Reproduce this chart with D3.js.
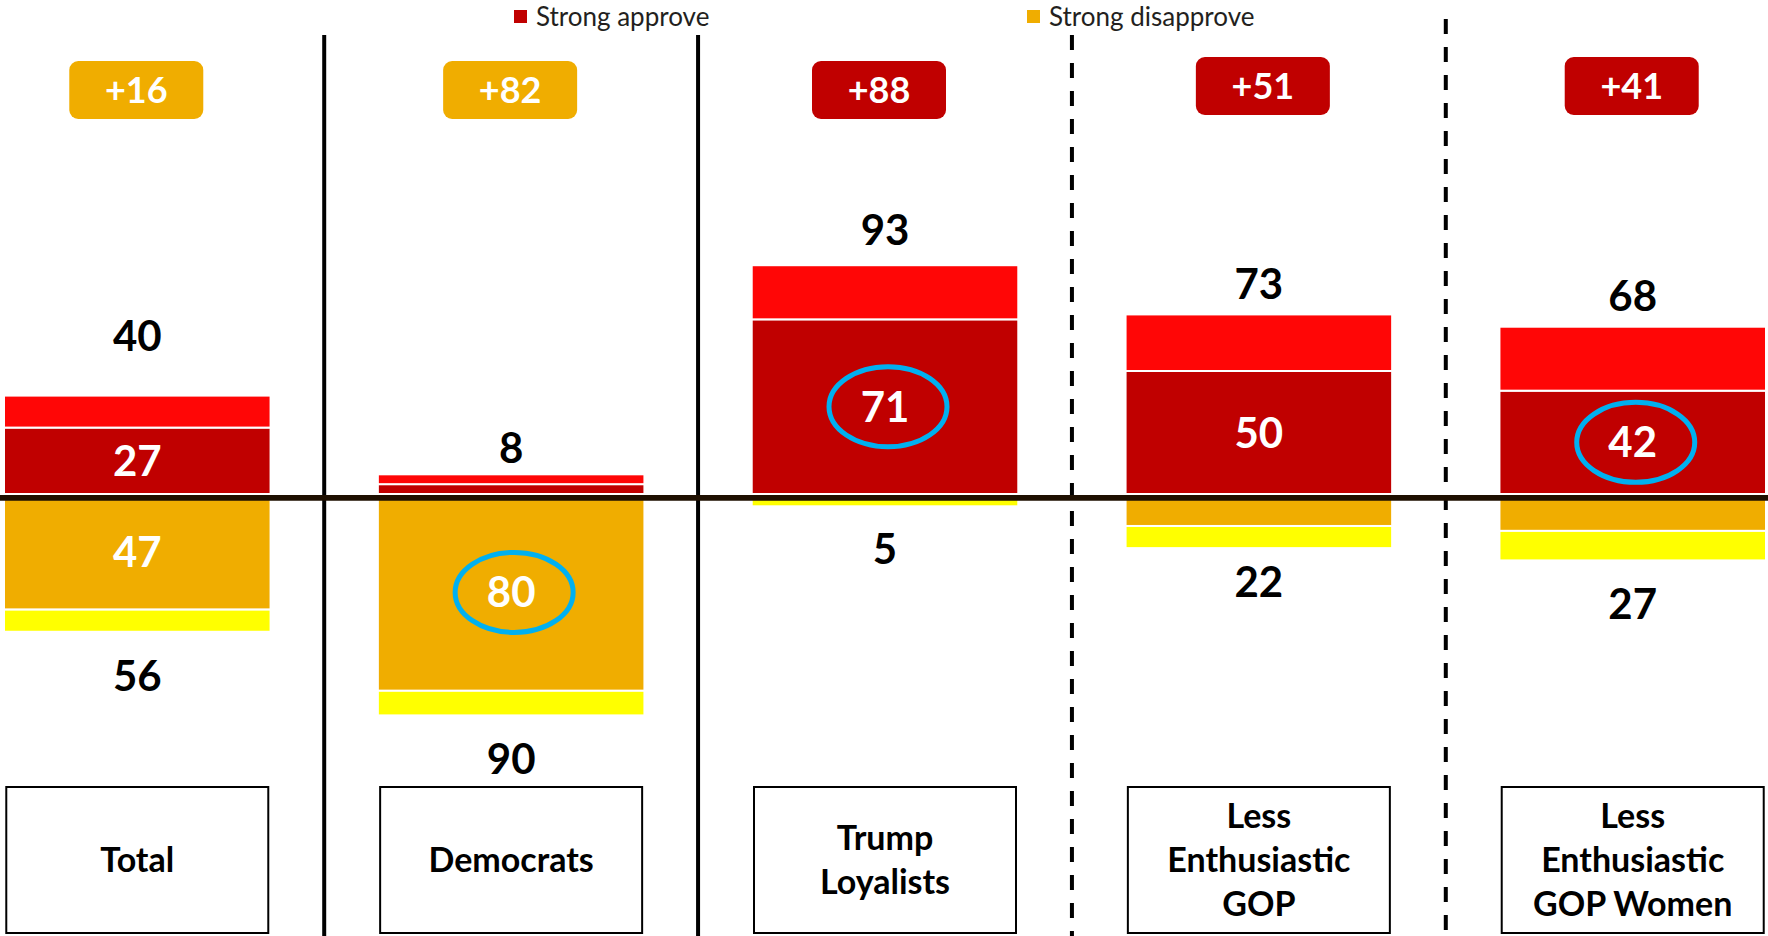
<!DOCTYPE html>
<html>
<head>
<meta charset="utf-8">
<script src="https://cdn.jsdelivr.net/npm/d3@7"></script>
<style>
  html, body { margin: 0; padding: 0; background: #ffffff; }
  svg { display: block; font-family: Lato, "Open Sans", sans-serif; }
</style>
</head>
<body>
<svg id="chart" width="1768" height="936"></svg>
<script>
// Groups shown along the bottom
const categories = ["Total", "Democrats", "Trump Loyalists", "Less Enthusiastic GOP", "Less Enthusiastic GOP Women"];
const categoryLines = [["Total"], ["Democrats"], ["Trump", "Loyalists"], ["Less", "Enthusiastic", "GOP"], ["Less", "Enthusiastic", "GOP Women"]];

// Approval (%), split into strong and total
const strongApprove = [27, 4, 71, 50, 42];
const totalApprove = [40, 8, 93, 73, 68];

// Disapproval (%), split into strong and total
const strongDisapprove = [47, 80, 2, 13, 15];
const totalDisapprove = [56, 90, 5, 22, 27];

// Legend entries
const legendLabels = ["Strong approve", "Strong disapprove"];

// Segments that get a highlight ring
const circled = [
  { category: "Democrats", series: "strongDisapprove" },
  { category: "Trump Loyalists", series: "strongApprove" },
  { category: "Less Enthusiastic GOP Women", series: "strongApprove" }
];

// Colours
const C = {
  strongApprove: "#c00000",
  softApprove: "#ff0606",
  strongDisapprove: "#f0ad00",
  softDisapprove: "#ffff00",
  ring: "#00b0f0",
  axis: "#1e0f00"
};

// Layout tweaks for the value labels, net badges and separators
const layout = {
  aboveGap: [60, 26, 35, 30, 31],
  belowGap: [44, 44, 43, 34, 44],
  badgeTop: [61, 61, 61, 57, 57],
  badgeNudge: [-1, -1, -6, 4, -1],
  sepStyle: ["solid", "solid", "dashed", "dashed"],
  sepTop: [35, 35, 35, 19]
};

const W = 1768, H = 936;
const svg = d3.select("#chart");

const x = d3.scaleBand().domain(categories).range([4, 1766]).paddingInner(0.287).paddingOuter(0);
const y = d3.scaleLinear().domain([-100, 100]).range([740, 248]);
const bw = x.bandwidth();
const step = x.step();
const cx = c => x(c) + bw / 2;

// Build stacked segments from the arrays
const segments = [];
categories.forEach((c, i) => {
  segments.push({ c, i, series: "strongApprove", lo: 0, hi: strongApprove[i], fill: C.strongApprove, value: strongApprove[i] });
  segments.push({ c, i, series: "softApprove", lo: strongApprove[i], hi: totalApprove[i], fill: C.softApprove, value: totalApprove[i] - strongApprove[i] });
  segments.push({ c, i, series: "strongDisapprove", lo: -strongDisapprove[i], hi: 0, fill: C.strongDisapprove, value: strongDisapprove[i] });
  segments.push({ c, i, series: "softDisapprove", lo: -totalDisapprove[i], hi: -strongDisapprove[i], fill: C.softDisapprove, value: totalDisapprove[i] - strongDisapprove[i] });
});

// Separators between groups
const sepG = svg.append("g");
categories.slice(0, -1).forEach((c, i) => {
  const sx = x(c) + bw + (step - bw) / 2;
  sepG.append("line")
    .attr("x1", sx).attr("x2", sx)
    .attr("y1", layout.sepTop[i]).attr("y2", H)
    .attr("stroke", "#000")
    .attr("stroke-width", 4)
    .attr("stroke-dasharray", layout.sepStyle[i] === "dashed" ? "15,13" : null);
});

// Bars
svg.append("g").selectAll("rect").data(segments).join("rect")
  .attr("x", d => x(d.c))
  .attr("width", bw)
  .attr("y", d => y(d.hi))
  .attr("height", d => Math.max(0, y(d.lo) - y(d.hi)))
  .attr("fill", d => d.fill)
  .attr("stroke", "#ffffff")
  .attr("stroke-width", 2);

// Zero line
svg.append("line")
  .attr("x1", 0).attr("x2", W)
  .attr("y1", y(0) + 3.8).attr("y2", y(0) + 3.8)
  .attr("stroke", C.axis)
  .attr("stroke-width", 5.7);

// Value labels inside the strong segments (only where there is room)
const capMid = 0.358;
const inner = segments.filter(d => (d.series === "strongApprove" || d.series === "strongDisapprove") && d.value >= 20);
svg.append("g").selectAll("text").data(inner).join("text")
  .attr("x", d => cx(d.c))
  .attr("y", d => (y(d.lo) + y(d.hi)) / 2 + capMid * 42)
  .attr("text-anchor", "middle")
  .attr("font-size", 42)
  .attr("font-weight", 700)
  .attr("fill", "#ffffff")
  .text(d => d.value);

// Highlight rings
svg.append("g").selectAll("ellipse").data(circled).join("ellipse")
  .attr("cx", d => cx(d.category) + 3)
  .attr("cy", d => {
    const s = segments.find(e => e.c === d.category && e.series === d.series);
    return (y(s.lo) + y(s.hi)) / 2;
  })
  .attr("rx", 59).attr("ry", 40)
  .attr("fill", "none")
  .attr("stroke", C.ring)
  .attr("stroke-width", 5);

// Totals above and below the bars
const totalsG = svg.append("g").attr("font-size", 42).attr("font-weight", 700).attr("fill", "#000").attr("text-anchor", "middle");
totalsG.selectAll("text.up").data(categories).join("text").attr("class", "up")
  .attr("x", c => cx(c))
  .attr("y", (c, i) => y(totalApprove[i]) - layout.aboveGap[i] + capMid * 42)
  .text((c, i) => totalApprove[i]);
totalsG.selectAll("text.down").data(categories).join("text").attr("class", "down")
  .attr("x", c => cx(c))
  .attr("y", (c, i) => y(-totalDisapprove[i]) + layout.belowGap[i] + capMid * 42)
  .text((c, i) => totalDisapprove[i]);

// Net badges
const badgeW = 134, badgeH = 58;
const badges = svg.append("g").selectAll("g").data(categories).join("g")
  .attr("transform", (c, i) => `translate(${cx(c) + layout.badgeNudge[i] - badgeW / 2},${layout.badgeTop[i]})`);
badges.append("rect")
  .attr("width", badgeW).attr("height", badgeH).attr("rx", 9)
  .attr("fill", (c, i) => totalApprove[i] - totalDisapprove[i] >= 0 ? C.strongApprove : C.strongDisapprove);
badges.append("text")
  .attr("x", badgeW / 2).attr("y", badgeH / 2 + capMid * 36)
  .attr("text-anchor", "middle")
  .attr("font-size", 36).attr("font-weight", 700).attr("fill", "#ffffff")
  .text((c, i) => "+" + Math.abs(totalApprove[i] - totalDisapprove[i]));

// Legend
const legendX = [514, 1027];
const legendColors = [C.strongApprove, C.strongDisapprove];
const leg = svg.append("g").selectAll("g").data(legendLabels).join("g")
  .attr("transform", (d, i) => `translate(${legendX[i]},0)`);
leg.append("rect").attr("y", 10).attr("width", 13).attr("height", 13).attr("fill", (d, i) => legendColors[i]);
leg.append("text").attr("x", 22).attr("y", 26)
  .attr("font-size", 26).attr("fill", "#231f20").text(d => d);

// Category boxes along the bottom
const boxW = 262, boxTop = 787, boxH = 146;
const catSize = 34, catLead = 44;
const cats = svg.append("g").selectAll("g").data(categories).join("g");
cats.append("rect")
  .attr("x", c => cx(c) - boxW / 2).attr("y", boxTop)
  .attr("width", boxW).attr("height", boxH)
  .attr("fill", "#ffffff").attr("stroke", "#000").attr("stroke-width", 2);
cats.each(function (c, i) {
  const lines = categoryLines[i];
  const mid = boxTop + boxH / 2;
  d3.select(this).selectAll("text").data(lines).join("text")
    .attr("x", cx(c))
    .attr("y", (t, j) => mid + (j - (lines.length - 1) / 2) * catLead + capMid * catSize)
    .attr("text-anchor", "middle")
    .attr("font-size", catSize).attr("font-weight", 700).attr("fill", "#000")
    .text(t => t);
});
</script>
</body>
</html>
